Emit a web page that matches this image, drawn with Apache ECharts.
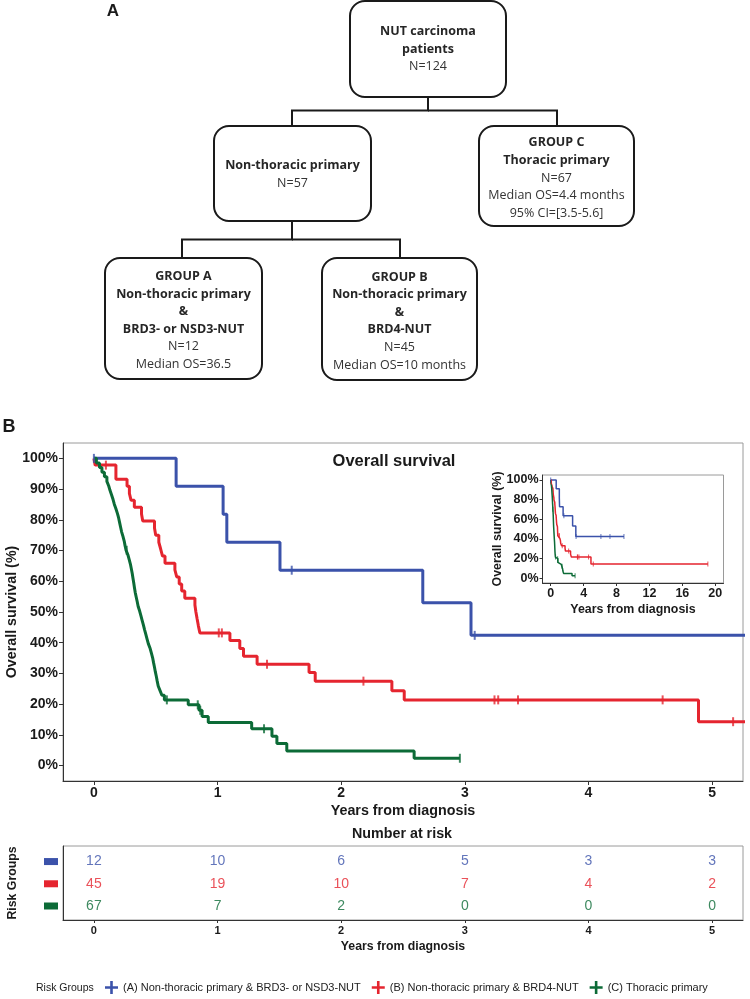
<!DOCTYPE html>
<html lang="en">
<head>
<meta charset="UTF-8">
<title>NUT carcinoma - overall survival</title>
<script src="https://cdn.jsdelivr.net/npm/echarts@6/dist/echarts.min.js"></script>
<style>
    html, body { margin: 0; padding: 0; background: #fff; }
    #main { width: 750px; height: 999px; }
</style>
</head>
<body>
<div id="main"></div>
<script>
// ---- data ----
// flowchart boxes (panel A)
var boxTop = ['NUT carcinoma', 'patients', 'N=124'];
var boxNonThoracic = ['Non-thoracic primary', 'N=57'];
var boxGroupC = ['GROUP C', 'Thoracic primary', 'N=67', 'Median OS=4.4 months', '95% CI=[3.5-5.6]'];
var boxGroupA = ['GROUP A', 'Non-thoracic primary', '&', 'BRD3- or NSD3-NUT', 'N=12', 'Median OS=36.5'];
var boxGroupB = ['GROUP B', 'Non-thoracic primary', '&', 'BRD4-NUT', 'N=45', 'Median OS=10 months'];

var groupNames = ['(A) Non-thoracic primary & BRD3- or NSD3-NUT',
                  '(B) Non-thoracic primary & BRD4-NUT',
                  '(C) Thoracic primary'];

// Kaplan-Meier steps [years, survival %] and censor marks
var stepsA = [[0,100],[0.665,90.9],[1.045,81.8],[1.075,72.7],[1.505,63.6],[2.66,53.0],[3.05,42.4],[8.9,42.4]];
var censorA = [[0,100],[1.60,63.6],[3.08,42.4],[6.1,42.4],[7.2,42.4],[8.9,42.4]];

var stepsB = [[0,100],[0.01,97.8],[0.178,93.2],[0.268,90.9],[0.287,88.6],[0.30,86.4],[0.327,84.1],
    [0.385,81.9],[0.395,79.6],[0.49,77.3],[0.50,75.0],[0.525,72.7],[0.54,70.5],[0.555,68.2],[0.575,65.9],
    [0.655,63.7],[0.67,61.4],[0.69,59.1],[0.71,56.8],[0.735,54.5],[0.817,52.3],[0.825,50.0],[0.835,47.7],
    [0.845,45.5],[0.857,43.2],[1.10,40.7],[1.18,38.1],[1.21,35.6],[1.32,33.0],[1.74,30.3],[1.79,27.5],
    [2.41,24.4],[2.51,21.4],[4.89,14.3],[19.1,14.3]];
var censorB = [[0.097,97.8],[1.01,43.2],[1.035,43.2],[1.40,33.0],[2.18,27.5],[3.24,21.4],[3.27,21.4],
    [3.43,21.4],[4.60,21.4],[5.17,14.3],[19.1,14.3]];

var stepsC = [[0,100],[0.02,98.5],[0.045,97.0],[0.065,95.5],[0.085,94.0],[0.105,92.5],[0.12,91.0],
    [0.13,89.6],[0.143,88.1],[0.155,86.6],[0.165,85.1],[0.178,83.6],[0.19,82.1],[0.20,80.6],[0.208,79.1],
    [0.216,77.6],[0.224,76.1],[0.235,74.6],[0.245,73.1],[0.252,71.6],[0.26,70.1],
    [0.275,68.6],[0.285,67.1],[0.295,65.6],[0.303,64.0],[0.31,62.5],[0.316,61.0],[0.322,59.5],[0.328,57.9],
    [0.334,56.4],[0.342,54.9],[0.35,53.4],[0.358,51.8],[0.37,50.3],[0.38,48.8],[0.39,47.3],[0.40,45.8],
    [0.41,44.2],[0.42,42.7],[0.43,41.2],[0.44,39.7],[0.455,38.1],[0.465,36.6],[0.475,35.1],[0.482,33.6],
    [0.49,32.0],[0.497,30.5],[0.505,29.0],[0.512,27.5],[0.52,25.9],[0.535,24.4],[0.55,22.9],[0.57,21.4],
    [0.763,19.8],[0.85,18.0],[0.875,16.0],[0.925,14.0],[1.276,12.0],[1.44,9.6],[1.48,7.2],[1.56,4.8],
    [2.59,2.4],[2.96,2.4]];
var censorC = [[0.265,70.1],[0.59,21.4],[0.84,19.8],[0.86,18.0],[1.376,12.0],[2.96,2.4]];

// number at risk table
var riskTimes = [0, 1, 2, 3, 4, 5];
var riskA = [12, 10, 6, 5, 3, 3];
var riskB = [45, 19, 10, 7, 4, 2];
var riskC = [67, 7, 2, 0, 0, 0];

// tick labels
var yearTicks = [0, 1, 2, 3, 4, 5];
var survTicks = [0, 10, 20, 30, 40, 50, 60, 70, 80, 90, 100];
var insetYearTicks = [0, 4, 8, 12, 16, 20];
var insetSurvTicks = [0, 20, 40, 60, 80, 100];

// ---- styling ----
var colors = ['#3B52AA', '#E5252F', '#0C6B37'];
var FONT = '"Liberation Sans", Arial, sans-serif';
var FLOW_FONT = '"Open Sans", sans-serif';
var INK = '#1a1a1a';

var myChart = echarts.init(document.getElementById('main'), null, {renderer: 'canvas'});

// flowchart drawn as graphic elements
var graphics = [];
function addBox(x, y, w, h, lines, shift) {
    graphics.push({
        type: 'rect', shape: {x: x, y: y, width: w, height: h, r: 15},
        style: {fill: '#fff', stroke: INK, lineWidth: 2}
    });
    var step = 17.6;
    var y0 = y + h / 2 - (lines.length - 1) * step / 2 + (shift || 0);
    lines.forEach(function (t, i) {
        var plain = /^(N=|Median|95%)/.test(t);
        graphics.push({
            type: 'text', x: x + w / 2, y: y0 + i * step,
            style: {
                text: t, align: 'center', verticalAlign: 'middle',
                fill: plain ? '#333' : '#262626',
                font: (plain ? '' : 'bold ') + '12.5px ' + FLOW_FONT
            }
        });
    });
}
function addLink(points) {
    graphics.push({
        type: 'polyline', shape: {points: points},
        style: {stroke: INK, lineWidth: 2, fill: null}
    });
}
addLink([[428, 97], [428, 110.5], [292, 110.5], [292, 126]]);
addLink([[428, 110.5], [557, 110.5], [557, 126]]);
addLink([[292, 221], [292, 239.5], [182, 239.5], [182, 258]]);
addLink([[292, 239.5], [400, 239.5], [400, 258]]);
addBox(350, 1, 156, 96, boxTop, 0);
addBox(214, 126, 157, 95, boxNonThoracic, 1);
addBox(479, 126, 155, 100, boxGroupC, 2);
addBox(105, 258, 157, 121, boxGroupA, 2);
addBox(322, 258, 155, 122, boxGroupB, 2);

function label(text, x, y, size, weight, align) {
    graphics.push({
        type: 'text', x: x, y: y,
        style: {
            text: text, align: align || 'center', verticalAlign: 'middle', fill: INK,
            font: (weight || 'bold') + ' ' + size + 'px ' + FONT
        }
    });
}
label('A', 113, 11, 17);
label('B', 9, 427, 18);
label('Overall survival', 394, 461, 16.5);
label('Number at risk', 402, 834, 14.3);
label('Risk Groups', 36, 988, 10.5, 'normal', 'left');

function valueAxis(grid, min, max, ticks, fmt, size, margin, tickLen, name, nameGap, nameSize, extra) {
    var ax = {
        gridIndex: grid, type: 'value', min: min, max: max,
        axisLine: {show: true, onZero: false, lineStyle: {color: '#333', width: 1}},
        axisTick: {show: tickLen > 0, length: tickLen, customValues: ticks, lineStyle: {color: '#333'}},
        axisLabel: {
            customValues: ticks, margin: margin, formatter: fmt,
            fontSize: size, fontWeight: 'bold', color: INK, fontFamily: FONT
        },
        splitLine: {show: false},
        name: name, nameLocation: 'middle', nameGap: nameGap, nameMoveOverlap: false,
        nameTextStyle: {fontSize: nameSize, fontWeight: 'bold', color: INK, fontFamily: FONT}
    };
    return Object.assign(ax, extra || {});
}
var pct = function (v) { return v + '%'; };
var plain = function (v) { return String(v); };

var series = [];
[stepsA, stepsB, stepsC].forEach(function (s, i) {
    series.push({
        type: 'line', name: groupNames[i], xAxisIndex: 0, yAxisIndex: 0, data: s, step: 'end',
        showSymbol: false, symbol: 'none', clip: true, z: 3,
        lineStyle: {color: colors[i], width: 3}, itemStyle: {color: colors[i]}
    });
});
[censorA, censorB, censorC].forEach(function (s, i) {
    series.push({
        type: 'scatter', name: 'censor' + i, xAxisIndex: 0, yAxisIndex: 0, data: s, clip: true,
        symbol: 'rect', symbolSize: [2, 9], itemStyle: {color: colors[i]}, z: 4, silent: true
    });
});
[stepsA, stepsB, stepsC].forEach(function (s, i) {
    series.push({
        type: 'line', name: groupNames[i], xAxisIndex: 1, yAxisIndex: 1, data: s, step: 'end',
        showSymbol: false, symbol: 'none', clip: true, z: 3,
        lineStyle: {color: colors[i], width: 1.5}, itemStyle: {color: colors[i]}
    });
});
[censorA, censorB, censorC].forEach(function (s, i) {
    series.push({
        type: 'scatter', name: 'censor' + i, xAxisIndex: 1, yAxisIndex: 1, data: s, clip: true,
        symbol: 'rect', symbolSize: [1, 5], itemStyle: {color: colors[i]}, z: 4, silent: true
    });
});
[riskA, riskB, riskC].forEach(function (vals, i) {
    series.push({
        type: 'scatter', name: 'risk' + i, xAxisIndex: 2, yAxisIndex: 2,
        data: riskTimes.map(function (t, j) { return [t, i + 1, vals[j]]; }),
        symbolSize: 1, itemStyle: {color: 'transparent'}, silent: true,
        label: {
            show: true, position: 'inside', formatter: function (p) { return p.value[2]; },
            color: colors[i], fontSize: 14, fontFamily: FONT
        }
    });
});

var gridBase = {show: true, borderColor: '#9a9a9a', borderWidth: 1, containLabel: false, outerBoundsMode: 'none'};
var option = {
    animation: false,
    textStyle: {fontFamily: FONT},
    graphic: graphics,
    grid: [
        Object.assign({left: 63, top: 443, width: 680, height: 338}, gridBase),
        Object.assign({left: 542.5, top: 475, width: 181, height: 108}, gridBase),
        Object.assign({left: 63, top: 846, width: 680, height: 74}, gridBase)
    ],
    xAxis: [
        valueAxis(0, -0.25, 5.25, yearTicks, plain, 14, 5, 4, 'Years from diagnosis', 23, 14.3),
        valueAxis(1, -1, 21, insetYearTicks, plain, 12.5, 4, 3, 'Years from diagnosis', 21, 12.4),
        valueAxis(2, -0.25, 5.25, riskTimes, plain, 11, 5, 3, 'Years from diagnosis', 21, 12.3)
    ],
    yAxis: [
        valueAxis(0, -5, 105, survTicks, pct, 14, 5, 4, 'Overall survival (%)', 44, 14.3),
        valueAxis(1, -5, 105, insetSurvTicks, pct, 12.5, 4, 3, 'Overall survival (%)', 39, 12.4),
        valueAxis(2, 0.3, 3.63, [1, 2, 3], function (v) { return '{s' + v + '| }'; }, 11, 5, 0,
            'Risk Groups', 44, 12.3, {inverse: true})
    ],
    legend: {
        left: 105, top: 981, itemWidth: 13, itemHeight: 13, itemGap: 11, padding: 0,
        selectedMode: false,
        textStyle: {fontSize: 11, color: '#222', fontFamily: FONT},
        data: groupNames.map(function (n) {
            return {name: n, icon: 'path://M0,4H10V6H0Z M4,0H6V10H4Z'};
        })
    },
    series: series
};
option.yAxis[2].axisLabel.rich = {
    s1: {width: 14, height: 7, backgroundColor: colors[0]},
    s2: {width: 14, height: 7, backgroundColor: colors[1]},
    s3: {width: 14, height: 7, backgroundColor: colors[2]}
};
myChart.setOption(option);
</script>
</body>
</html>
